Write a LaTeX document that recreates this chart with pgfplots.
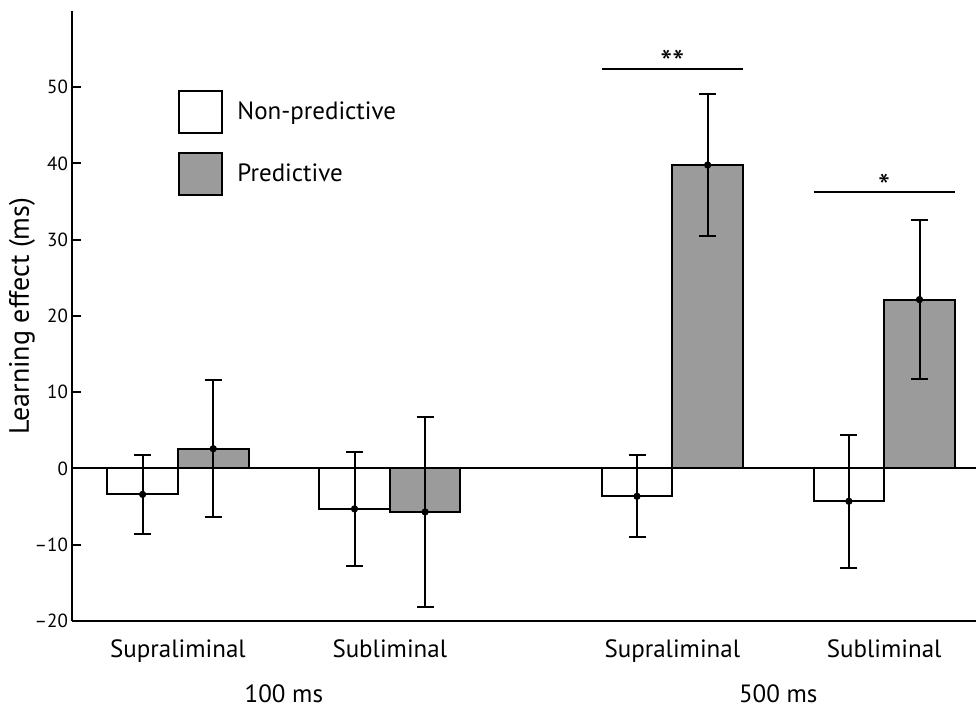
\documentclass[border=0pt]{standalone}
\usepackage{fontspec}
\setmainfont{PT Sans}
\usepackage{pgfplots}
\pgfplotsset{compat=1.18}
\definecolor{barg}{RGB}{155,155,155}
\begin{document}
\begin{tikzpicture}
\begin{axis}[
  scale only axis, width=452pt, height=305pt,
  xmin=-1.5, xmax=11.3, ymin=-20, ymax=60,
  axis lines*=left,
  axis line style={line width=1.2pt},
  clip=false,
  ytick={-20,-10,0,10,20,30,40,50},
  yticklabels={–20,–10,0,10,20,30,40,50},
  yticklabel style={font=\fontsize{9.5}{11}\selectfont, xshift=1.5pt},
  y tick style={line width=1pt, black},
  tick align=inside, major tick length=4.5pt,
  xtick={0,3,7,10},
  xticklabels={Supraliminal,Subliminal,Supraliminal,Subliminal},
  x tick style={draw=none},
  xticklabel style={font=\fontsize{12.5}{14}\selectfont, yshift=-6pt},
  ylabel={Learning effect (ms)},
  ylabel style={font=\fontsize{14}{16}\selectfont, at={(axis description cs:-0.0553,0.5)}, anchor=center},
  legend image code/.code={\draw[#1, line width=1pt] (0pt,-10.5pt) rectangle (21.5pt,10.5pt);},
  legend style={at={(axis description cs:0.1173,0.8705)}, anchor=north west, draw=none, fill=none,
    font=\fontsize{12.5}{14}\selectfont, row sep=9pt, inner sep=0pt, nodes={inner sep=0pt}, column sep=7pt},
  legend cell align=left,
]
\addplot[forget plot, line width=1pt, black] coordinates {(-1.5,0) (11.3,0)};
\addplot[ybar, bar width=1, bar shift=0pt, fill=white, draw=black, line width=1pt]
  coordinates {(-0.5,-3.4) (2.5,-5.3) (6.5,-3.65) (9.5,-4.3)};
\addlegendentry{Non-predictive}
\addplot[ybar, bar width=1, bar shift=0pt, fill=barg, draw=black, line width=1pt]
  coordinates {(0.5,2.6) (3.5,-5.7) (7.5,39.8) (10.5,22.15)};
\addlegendentry{Predictive}
\addplot[forget plot, only marks, mark=*, mark size=1.6pt, black,
  error bars/.cd, y dir=both, y explicit,
  error bar style={line width=1pt, black},
  error mark options={rotate=90, mark size=4.25pt, line width=1pt, black}]
  coordinates {
  (-0.5,-3.4) +- (0,5.14)
  (2.5,-5.3) +- (0,7.5)
  (6.5,-3.65) +- (0,5.4)
  (9.5,-4.3) +- (0,8.75)
  (0.5,2.6) +- (0,9.0)
  (3.5,-5.7) +- (0,12.5)
  (7.5,39.8) +- (0,9.3)
  (10.5,22.15) +- (0,10.4)
  };
\draw[line width=1pt] (axis cs:6,52.45) -- (axis cs:8,52.45);
\node[font=\fontsize{17}{17}\selectfont, inner sep=0pt, anchor=base] at ([yshift=-9pt]axis cs:7,54) {**};
\draw[line width=1pt] (axis cs:9,36.2) -- (axis cs:11,36.2);
\node[font=\fontsize{17}{17}\selectfont, inner sep=0pt, anchor=base] at ([yshift=-9pt]axis cs:10,37.8) {*};
\node[font=\fontsize{12.5}{14}\selectfont, inner sep=0pt] at ([yshift=-36.5pt]axis cs:1.5,-20) {100 ms};
\node[font=\fontsize{12.5}{14}\selectfont, inner sep=0pt] at ([yshift=-36.5pt]axis cs:8.5,-20) {500 ms};
\end{axis}
\pgfresetboundingbox
\useasboundingbox ([shift={(-36pt,-44pt)}]current axis.south west) rectangle ([shift={(0pt,5.5pt)}]current axis.north east);
\end{tikzpicture}
\end{document}
